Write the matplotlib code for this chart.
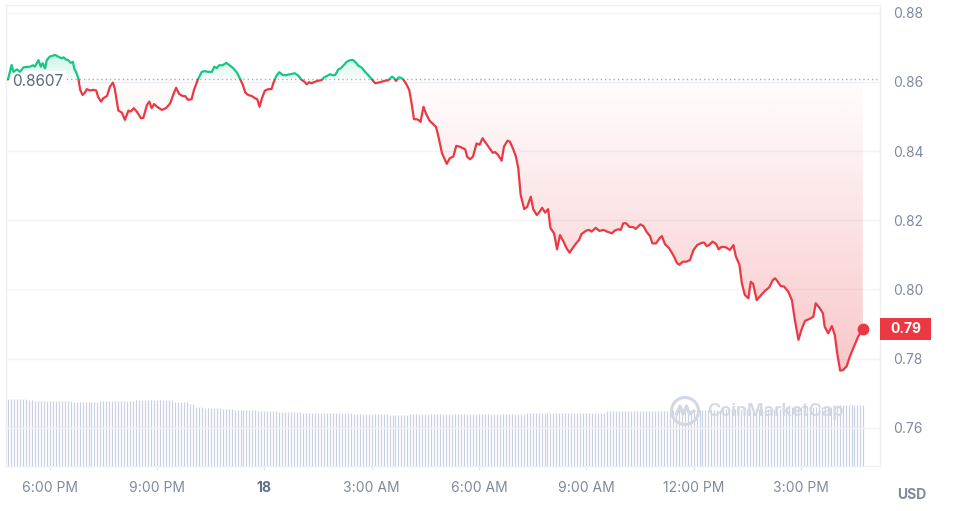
import numpy as np
import matplotlib
matplotlib.use('Agg')
import matplotlib.pyplot as plt
from matplotlib.patches import Rectangle, Circle, PathPatch
from matplotlib.path import Path
import matplotlib.transforms as mtransforms

plt.rcParams['font.family'] = ['Inter', 'DejaVu Sans']

# ---------------- data ----------------
# minutes since 16:50 on the 17th
times_min = [
    0, 6, 9, 15, 20, 26, 37, 42, 45, 51,
    55, 58, 62, 65, 70, 79, 84, 90, 93, 97,
    101, 105, 109, 111, 115, 118, 121, 125, 129, 132,
    138, 143, 148, 151, 156, 160, 166, 171, 176, 179,
    185, 191, 196, 202, 206, 211, 216, 223, 227, 233,
    237, 241, 245, 250, 258, 265, 272, 277, 282, 287,
    293, 297, 302, 308, 312, 318, 325, 330, 336, 342,
    346, 350, 354, 360, 366, 371, 378, 384, 389, 394,
    398, 403, 409, 414, 418, 422, 426, 431, 437, 442,
    445, 450, 455, 461, 466, 470, 476, 481, 487, 493,
    497, 501, 505, 509, 513, 519, 526, 530, 535, 540,
    545, 549, 554, 558, 562, 568, 574, 579, 584, 588,
    593, 599, 604, 610, 616, 624, 632, 638, 644, 647,
    651, 655, 659, 663, 668, 673, 677, 681, 686, 690,
    692, 697, 701, 707, 712, 718, 722, 728, 731, 736,
    741, 747, 752, 757, 767, 770, 775, 780, 786, 791,
    796, 803, 809, 813, 817, 822, 828, 832, 838, 842,
    848, 852, 856, 860, 866, 871, 877, 881, 887, 892,
    896, 901, 906, 910, 916, 921, 926, 932, 937, 942,
    947, 953, 958, 962, 970, 975, 979, 986, 992, 999,
    1005, 1013, 1018, 1024, 1028, 1032, 1037, 1042, 1049, 1053,
    1061, 1066, 1071, 1077, 1081, 1087, 1093, 1097, 1102, 1109,
    1116, 1122, 1126, 1132, 1138, 1144, 1150, 1156, 1164, 1168,
    1172, 1176, 1182, 1188, 1192, 1197, 1204, 1211, 1217, 1221,
    1227, 1231, 1236, 1242, 1246, 1250, 1256, 1261, 1270, 1277,
    1283, 1287, 1290, 1296, 1302, 1309, 1315, 1320, 1326, 1331,
    1337, 1344, 1351, 1355, 1362, 1367, 1370, 1376, 1382, 1387,
    1391, 1396, 1401, 1407, 1412, 1419, 1426, 1434,
]
prices = [
    0.8607, 0.8649, 0.8629, 0.8636, 0.8629, 0.8642, 0.8644, 0.8648, 0.8644, 0.8663,
    0.8644, 0.8654, 0.8639, 0.8663, 0.8673, 0.8678, 0.8673, 0.8668, 0.8671, 0.8665,
    0.8663, 0.8655, 0.8658, 0.8639, 0.8625, 0.8610, 0.8577, 0.8562, 0.8569, 0.8579,
    0.8575, 0.8577, 0.8575, 0.8557, 0.8543, 0.8553, 0.8559, 0.8586, 0.8598, 0.8581,
    0.8517, 0.8511, 0.8490, 0.8517, 0.8514, 0.8524, 0.8514, 0.8495, 0.8496, 0.8533,
    0.8543, 0.8524, 0.8536, 0.8528, 0.8519, 0.8524, 0.8538, 0.8562, 0.8583, 0.8565,
    0.8559, 0.8559, 0.8548, 0.8550, 0.8577, 0.8605, 0.8629, 0.8631, 0.8629, 0.8629,
    0.8644, 0.8640, 0.8648, 0.8648, 0.8655, 0.8649, 0.8639, 0.8627, 0.8610, 0.8591,
    0.8569, 0.8562, 0.8559, 0.8553, 0.8550, 0.8528, 0.8553, 0.8575, 0.8579, 0.8579,
    0.8596, 0.8617, 0.8628, 0.8620, 0.8619, 0.8621, 0.8623, 0.8625, 0.8618, 0.8605,
    0.8601, 0.8593, 0.8599, 0.8596, 0.8599, 0.8603, 0.8605, 0.8613, 0.8617, 0.8622,
    0.8619, 0.8620, 0.8636, 0.8639, 0.8646, 0.8658, 0.8663, 0.8663, 0.8655, 0.8646,
    0.8642, 0.8629, 0.8620, 0.8608, 0.8596, 0.8599, 0.8603, 0.8605, 0.8615, 0.8612,
    0.8603, 0.8613, 0.8612, 0.8607, 0.8594, 0.8577, 0.8538, 0.8492, 0.8492, 0.8488,
    0.8484, 0.8528, 0.8509, 0.8488, 0.8480, 0.8470, 0.8442, 0.8394, 0.8382, 0.8363,
    0.8379, 0.8384, 0.8415, 0.8413, 0.8405, 0.8384, 0.8376, 0.8384, 0.8422, 0.8418,
    0.8437, 0.8420, 0.8405, 0.8395, 0.8397, 0.8389, 0.8372, 0.8413, 0.8430, 0.8427,
    0.8403, 0.8384, 0.8350, 0.8273, 0.8232, 0.8239, 0.8268, 0.8232, 0.8215, 0.8225,
    0.8236, 0.8222, 0.8232, 0.8177, 0.8162, 0.8116, 0.8157, 0.8138, 0.8119, 0.8106,
    0.8119, 0.8133, 0.8143, 0.8160, 0.8170, 0.8172, 0.8167, 0.8178, 0.8169, 0.8172,
    0.8167, 0.8162, 0.8170, 0.8174, 0.8172, 0.8191, 0.8191, 0.8181, 0.8180, 0.8175,
    0.8188, 0.8183, 0.8167, 0.8154, 0.8133, 0.8133, 0.8148, 0.8154, 0.8131, 0.8119,
    0.8099, 0.8077, 0.8071, 0.8080, 0.8080, 0.8085, 0.8114, 0.8128, 0.8135, 0.8135,
    0.8125, 0.8128, 0.8138, 0.8131, 0.8116, 0.8123, 0.8122, 0.8114, 0.8128, 0.8095,
    0.8071, 0.8018, 0.7984, 0.7974, 0.8022, 0.8016, 0.7969, 0.7979, 0.7996, 0.8006,
    0.8027, 0.8032, 0.8025, 0.8010, 0.8008, 0.7993, 0.7969, 0.7911, 0.7854, 0.7883,
    0.7909, 0.7914, 0.7921, 0.7960, 0.7945, 0.7931, 0.7892, 0.7873, 0.7894, 0.7868,
    0.7815, 0.7765, 0.7767, 0.7778, 0.7805, 0.7834, 0.7863, 0.7886,
]
base_price = 0.8607

# 24h volume (millions USD), run-length encoded per 5-minute bar
vol_levels = [26.8, 26.4, 26.0, 25.6, 26.0, 26.4, 25.8, 24.8, 23.8, 23.2, 22.8, 22.4,
              22.0, 21.6, 21.2, 20.8, 20.4, 20.8, 21.2, 22.0, 22.4, 22.8, 23.6, 24.4]
vol_counts = [7, 2, 13, 9, 12, 13, 5, 2, 3, 6, 4, 8,
              7, 8, 17, 12, 7, 39, 27, 22, 17, 20, 17, 11]

x_tick_pos = [70, 250, 430, 610, 790, 970, 1150, 1330]
x_tick_labels = ['6:00 PM', '9:00 PM', '18', '3:00 AM', '6:00 AM', '9:00 AM', '12:00 PM', '3:00 PM']
y_ticks = [0.76, 0.78, 0.80, 0.82, 0.84, 0.86, 0.88]

# ---------------- styles ----------------
RED = '#EA3943'
GREEN = '#16C784'
GRAY = '#808A9D'
DARK = '#58667E'
GRID = '#F1F3F6'
FRAME = '#ECEFF3'

W, H = 962, 511
fig = plt.figure(figsize=(W / 100, H / 100), dpi=100)
pos = [6 / W, 1 - 466 / H, 874 / W, 461 / H]

ax_v = fig.add_axes(pos)
ax = fig.add_axes(pos)
ax_v.set_zorder(0)
ax.set_zorder(1)
ax.patch.set_visible(False)

xlim = (-3.4, 1462.8)
ylim = (0.74893, 0.88223)
px_y = (ylim[1] - ylim[0]) / 461

# volume bars
vols = np.repeat(vol_levels, vol_counts)
vt = np.arange(len(vols)) * 5.0
ax_v.vlines(vt, 0, vols, color='#C9D2E2', lw=0.85)
ax_v.set_xlim(*xlim)
ax_v.set_ylim(0, max(vol_levels) * 461 / 67)
ax_v.axis('off')

# insert baseline crossings
t = np.array(times_min, float)
p = np.array(prices, float)
tt = [t[0]]
pp = [p[0]]
for i in range(1, len(t)):
    d0 = p[i - 1] - base_price
    d1 = p[i] - base_price
    if d0 * d1 < 0:
        f = d0 / (d0 - d1)
        tt.append(t[i - 1] + f * (t[i] - t[i - 1]))
        pp.append(base_price)
    tt.append(t[i])
    pp.append(p[i])
tt = np.array(tt)
pp = np.array(pp)


def region_patch(vals):
    verts = list(zip(tt, vals)) + [(tt[-1], base_price), (tt[0], base_price), (tt[0], vals[0])]
    codes = [Path.MOVETO] + [Path.LINETO] * (len(verts) - 2) + [Path.CLOSEPOLY]
    patch = PathPatch(Path(verts, codes), facecolor='none', edgecolor='none', transform=ax.transData)
    ax.add_patch(patch)
    return patch


def gradient(rgb, a_bottom, a_top, y0, y1, clip):
    n = 256
    arr = np.zeros((n, 1, 4))
    arr[:, 0, 0] = rgb[0]
    arr[:, 0, 1] = rgb[1]
    arr[:, 0, 2] = rgb[2]
    arr[:, 0, 3] = np.linspace(a_bottom, a_top, n)
    im = ax.imshow(arr, extent=[tt[0], tt[-1], y0, y1], origin='lower', aspect='auto',
                   interpolation='bilinear', zorder=1)
    im.set_clip_path(clip)


red_rgb = (234 / 255, 57 / 255, 67 / 255)
green_rgb = (22 / 255, 199 / 255, 132 / 255)
red_clip = region_patch(np.minimum(pp, base_price))
green_clip = region_patch(np.maximum(pp, base_price))
gradient(red_rgb, 0.28, 0.01, pp.min(), base_price, red_clip)
gradient(green_rgb, 0.03, 0.22, base_price, pp.max(), green_clip)

# price line split by baseline
for col, rect in ((GREEN, Rectangle((-1e4, base_price), 2e4, 1.0, transform=ax.transData)),
                  (RED, Rectangle((-1e4, base_price - 1.0), 2e4, 1.0, transform=ax.transData))):
    ln, = ax.plot(tt, pp, color=col, lw=1.6, solid_joinstyle='round', solid_capstyle='round', zorder=3)
    ln.set_clip_path(rect)

ax.plot([t[-1]], [p[-1]], 'o', color=RED, ms=7.5, zorder=4, clip_on=False)

# baseline dotted
bt = mtransforms.blended_transform_factory(ax.transAxes, ax.transData)
ax.axhline(base_price, color='#A3ACBD', lw=1.0, ls=(0, (1, 2.1)), zorder=2)
ax.text(6 / 874, base_price - 2.2 * px_y, f'{base_price:.4f}', transform=bt,
        ha='left', va='center', fontsize=11, color=DARK, zorder=2.5,
        bbox=dict(boxstyle='square,pad=0.2', facecolor='white', edgecolor='none'))

ax.set_xlim(*xlim)
ax.set_ylim(*ylim)

# axes styling
for s in ax.spines.values():
    s.set_color(FRAME)
    s.set_linewidth(1.0)
ax.yaxis.tick_right()
ax.set_yticks(y_ticks)
ax.set_yticklabels([f'{v:.2f}' for v in y_ticks])
ax.tick_params(axis='y', length=0, pad=9.5, labelsize=10, labelcolor=GRAY)
ax.set_xticks(x_tick_pos)
ax.set_xticklabels(x_tick_labels)
ax.tick_params(axis='x', length=3, color='#E3E7ED', width=1, pad=8, labelsize=10, labelcolor=GRAY)
lbl18 = ax.get_xticklabels()[2]
lbl18.set_fontweight('bold')
lbl18.set_color('#616E85')
ax.yaxis.grid(True, color=GRID, lw=1.0)
ax.xaxis.grid(False)
ax.set_axisbelow(True)

# current price tag
tag_h = 22 * px_y
ax.add_patch(Rectangle((1.0, p[-1] - tag_h / 2), 51 / 874, tag_h, transform=bt,
                       facecolor=RED, edgecolor='none', clip_on=False, zorder=6))
ax.text(1.0 + 25.5 / 874, p[-1], f'{p[-1]:.2f}', transform=bt, ha='center', va='center',
        color='white', fontsize=10, fontweight='bold', zorder=7, clip_on=False)

fig.text(897 / W, 1 - 495 / H, 'USD', ha='left', va='center', fontsize=10,
         fontweight='bold', color=GRAY)

# watermark
WM = '#D2D8E3'
fig.text(707 / W, 1 - 411 / H, 'CoinMarketCap', ha='left', va='center', fontsize=13,
         fontweight='semibold', color=WM, zorder=10)
cx, cy = 685 / 100, (H - 411) / 100
fig.add_artist(Circle((cx, cy), 0.135, transform=fig.dpi_scale_trans, facecolor='none',
                      edgecolor=WM, lw=2.2, zorder=10))
wave = [(-0.085, -0.03), (-0.05, 0.05), (-0.02, -0.03), (0.015, 0.05), (0.045, -0.03), (0.09, 0.0)]
fig.add_artist(plt.Line2D([cx + a for a, b in wave], [cy + b for a, b in wave],
                          transform=fig.dpi_scale_trans, color=WM, lw=2.2, zorder=10))

fig.savefig('out.png', dpi=100)
